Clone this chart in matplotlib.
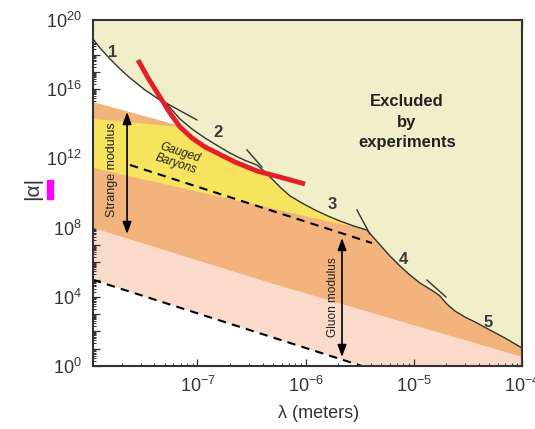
import numpy as np
import matplotlib.pyplot as plt
from matplotlib.patches import Rectangle
from matplotlib.ticker import LogLocator, NullFormatter

plt.rcParams['font.family'] = ['Liberation Sans', 'DejaVu Sans']
plt.rcParams['mathtext.fontset'] = 'custom'
plt.rcParams['mathtext.rm'] = 'Liberation Sans'
plt.rcParams['mathtext.it'] = 'Liberation Sans:italic'
plt.rcParams['mathtext.bf'] = 'Liberation Sans:bold'

# all values are log10(lambda [m]) and log10(|alpha|)
bound_lx = [-7.966, -7.901, -7.809, -7.716, -7.624, -7.485, -7.374, -7.282,
            -7.236, -7.162, -7.051, -6.931, -6.811, -6.700, -6.570, -6.450,
            -6.385, -6.311, -6.228, -6.145, -6.034, -5.914, -5.794, -5.683, -5.554, -5.434,
            -5.369, -5.295, -5.221, -5.128, -5.036, -4.944, -4.824, -4.759,
            -4.694, -4.620, -4.528, -4.417, -4.297, -4.158, -4.0]
bound_ly = [18.90, 18.38, 17.75, 17.17, 16.65, 15.95, 15.49, 15.14,
            14.80, 14.28, 13.70, 13.18, 12.72, 12.31, 11.91, 11.62,
            11.27, 10.81, 10.29, 9.83, 9.42, 9.02, 8.67, 8.38, 8.09, 7.86,
            7.40, 6.88, 6.36, 5.78, 5.26, 4.80, 4.34, 4.05,
            3.58, 3.18, 2.83, 2.49, 2.08, 1.62, 1.04]

red_lx = [-7.550, -7.457, -7.347, -7.254, -7.162, -7.051, -6.931, -6.653, -6.450, -6.238, -6.006]
red_ly = [17.69, 16.65, 15.55, 14.62, 13.82, 13.18, 12.66, 11.79, 11.27, 10.92, 10.52]

orange_top_lx = [-7.966, -7.190]
orange_top_ly = [15.26, 13.93]
yellow_top_lx = [-7.966, -7.162]
yellow_top_ly = [14.28, 13.82]
yellow_bot_lx = [-7.966, -5.591]
yellow_bot_ly = [11.45, 8.09]
orange_bot_lx = [-7.966, -6.330, -4.759, -4.0]
orange_bot_ly = [7.98, 4.80, 1.91, 0.52]
pink_bot_lx = [-7.966, -4.0]
pink_bot_ly = [4.98, -2.96]

dash_hi_lx = [-7.624, -5.387]
dash_hi_ly = [11.62, 7.11]
dash_lo_lx = [-7.966, -5.48]
dash_lo_ly = [4.98, 0.0]

# short tangent pieces where the limit curves cross
cross_lx = [[-7.374, -7.005], [-6.543, -6.404], [-5.526, -5.406], [-4.879, -4.703]]
cross_ly = [[15.49, 14.22], [12.49, 11.50], [9.02, 7.63], [4.97, 3.99]]

curve_labels = ['1', '2', '3', '4', '5']
curve_label_lx = [-7.781, -6.811, -5.757, -5.101, -4.315]
curve_label_ly = [18.15, 13.47, 9.31, 6.13, 2.54]

x_label_exps = [-7, -6, -5, -4]
y_label_exps = [0, 4, 8, 12, 16, 20]

C_PALE = '#F0EFC9'
C_YELLOW = '#F6E35E'
C_ORANGE = '#F2B47C'
C_PINK = '#FADACB'
C_LINE = '#333333'


def p(v):
    return 10.0 ** np.asarray(v, dtype=float)


bx, by = np.array(bound_lx), np.array(bound_ly)
rx, ry = np.array(red_lx), np.array(red_ly)

# lower edge of the excluded area: boundary, then the red curve, then boundary again
m1 = bx < -7.35
m2 = (rx >= -7.35) & (rx < -6.35)
m3 = bx > -6.35
env_lx = np.concatenate([bx[m1], rx[m2], bx[m3]])
env_ly = np.concatenate([by[m1], ry[m2], by[m3]])

fig = plt.figure(figsize=(5.35, 4.29), dpi=100)
ax = fig.add_axes([93 / 535, 1 - 366 / 429, 429 / 535, 346 / 429])
ax.set_xscale('log')
ax.set_yscale('log')

# pink band
px_ = np.concatenate([orange_bot_lx, pink_bot_lx[::-1]])
py_ = np.concatenate([orange_bot_ly, pink_bot_ly[::-1]])
ax.fill(p(px_), p(py_), color=C_PINK, lw=0, zorder=1)

# orange band
m = env_lx > -7.19
ox = np.concatenate([orange_top_lx, env_lx[m], orange_bot_lx[::-1]])
oy = np.concatenate([orange_top_ly, env_ly[m], orange_bot_ly[::-1]])
ax.fill(p(ox), p(oy), color=C_ORANGE, lw=0, zorder=2)

# yellow band (gauged baryons)
m = (env_lx > -7.16) & (env_lx < -5.59)
yx = np.concatenate([yellow_top_lx, env_lx[m], yellow_bot_lx[::-1]])
yy = np.concatenate([yellow_top_ly, env_ly[m], yellow_bot_ly[::-1]])
ax.fill(p(yx), p(yy), color=C_YELLOW, lw=0, zorder=3)

# excluded region
ax.fill_between(p(env_lx), p(env_ly), 1e21, color=C_PALE, lw=0, zorder=4)

# limit curves
ax.plot(p(bound_lx), p(bound_ly), color=C_LINE, lw=1.0, zorder=6)
for cx, cy in zip(cross_lx, cross_ly):
    ax.plot(p(cx), p(cy), color=C_LINE, lw=1.0, zorder=6)

ax.plot(p(dash_hi_lx), p(dash_hi_ly), color='black', lw=1.5, ls=(0, (4, 3)), zorder=6)
ax.plot(p(dash_lo_lx), p(dash_lo_ly), color='black', lw=1.5, ls=(0, (4, 3)), zorder=6)

ax.plot(p(red_lx), p(red_ly), color='#E3202A', lw=3.5, solid_capstyle='butt', zorder=7)

# modulus arrows
arrow = dict(arrowstyle='<|-|>,head_length=0.6,head_width=0.22', color='black',
             lw=1.2, mutation_scale=12, shrinkA=0, shrinkB=0)
ax.annotate('', xy=(p(-7.651), p(14.68)), xytext=(p(-7.651), p(7.63)), arrowprops=arrow, zorder=8)
ax.annotate('', xy=(p(-5.664), p(7.40)), xytext=(p(-5.664), p(0.52)), arrowprops=arrow, zorder=8)

ax.text(p(-7.79), p(11.33), 'Strange modulus', rotation=90, ha='center', va='center',
        fontsize=9, color='#222222', zorder=9)
ax.text(p(-5.747), p(3.99), 'Gluon modulus', rotation=90, ha='center', va='center',
        fontsize=8.5, color='#222222', zorder=9)
ax.text(p(-7.18), p(12.02), 'Gauged\nBaryons', rotation=-18, ha='center', va='center',
        fontsize=8.5, style='italic', color='#222222', linespacing=1.0, zorder=9)
ax.text(p(-5.064), p(14.10), 'Excluded\nby\nexperiments', ha='center', va='center',
        fontsize=12, fontweight='bold', color='#222222', linespacing=1.45, zorder=9)

for lab, lx, ly in zip(curve_labels, curve_label_lx, curve_label_ly):
    ax.text(p(lx), p(ly), lab, ha='center', va='center', fontsize=12,
            fontweight='bold', color='#3a3a3a', zorder=9)

ax.set_xlim(p(-7.966), 1e-4)
ax.set_ylim(1, 1e20)

ax.set_xticks(p(x_label_exps))
ax.set_xticklabels([r'$\mathregular{10^{%d}}$' % e for e in x_label_exps])
ax.xaxis.set_minor_locator(LogLocator(base=10, subs=np.arange(2, 10), numticks=100))
ax.xaxis.set_minor_formatter(NullFormatter())

ax.set_yticks(p(np.arange(0, 21)))
ax.set_yticklabels([r'$\mathregular{10^{%d}}$' % e if e in y_label_exps else ''
                    for e in range(0, 21)])
ax.yaxis.set_minor_locator(LogLocator(base=10, subs=np.arange(2, 10), numticks=100))
ax.yaxis.set_minor_formatter(NullFormatter())

ax.tick_params(which='both', direction='in', top=True, right=True, colors=C_LINE,
               labelcolor='#333333', labelsize=13)
ax.tick_params(which='major', length=5, width=0.9)
ax.tick_params(which='minor', length=2.5, width=0.7, top=False, right=False)
ax.tick_params(axis='y', which='major', pad=8)
ax.tick_params(axis='x', which='major', pad=7)

for s in ax.spines.values():
    s.set_linewidth(1.5)
    s.set_color(C_LINE)
    s.set_zorder(10)

fig.text(33 / 535, 1 - 188 / 429, '|\u03b1|', rotation=90, ha='center', va='center',
         fontsize=15, color='#333333')
fig.text(319 / 535, 1 - 413 / 429, '\u03bb (meters)', ha='center', va='center',
         fontsize=13, color='#333333')
fig.patches.append(Rectangle((47 / 535, 1 - 199 / 429), 6 / 535, 19 / 429,
                             transform=fig.transFigure, color='#FF00FF'))

fig.savefig('out.png', dpi=100)
